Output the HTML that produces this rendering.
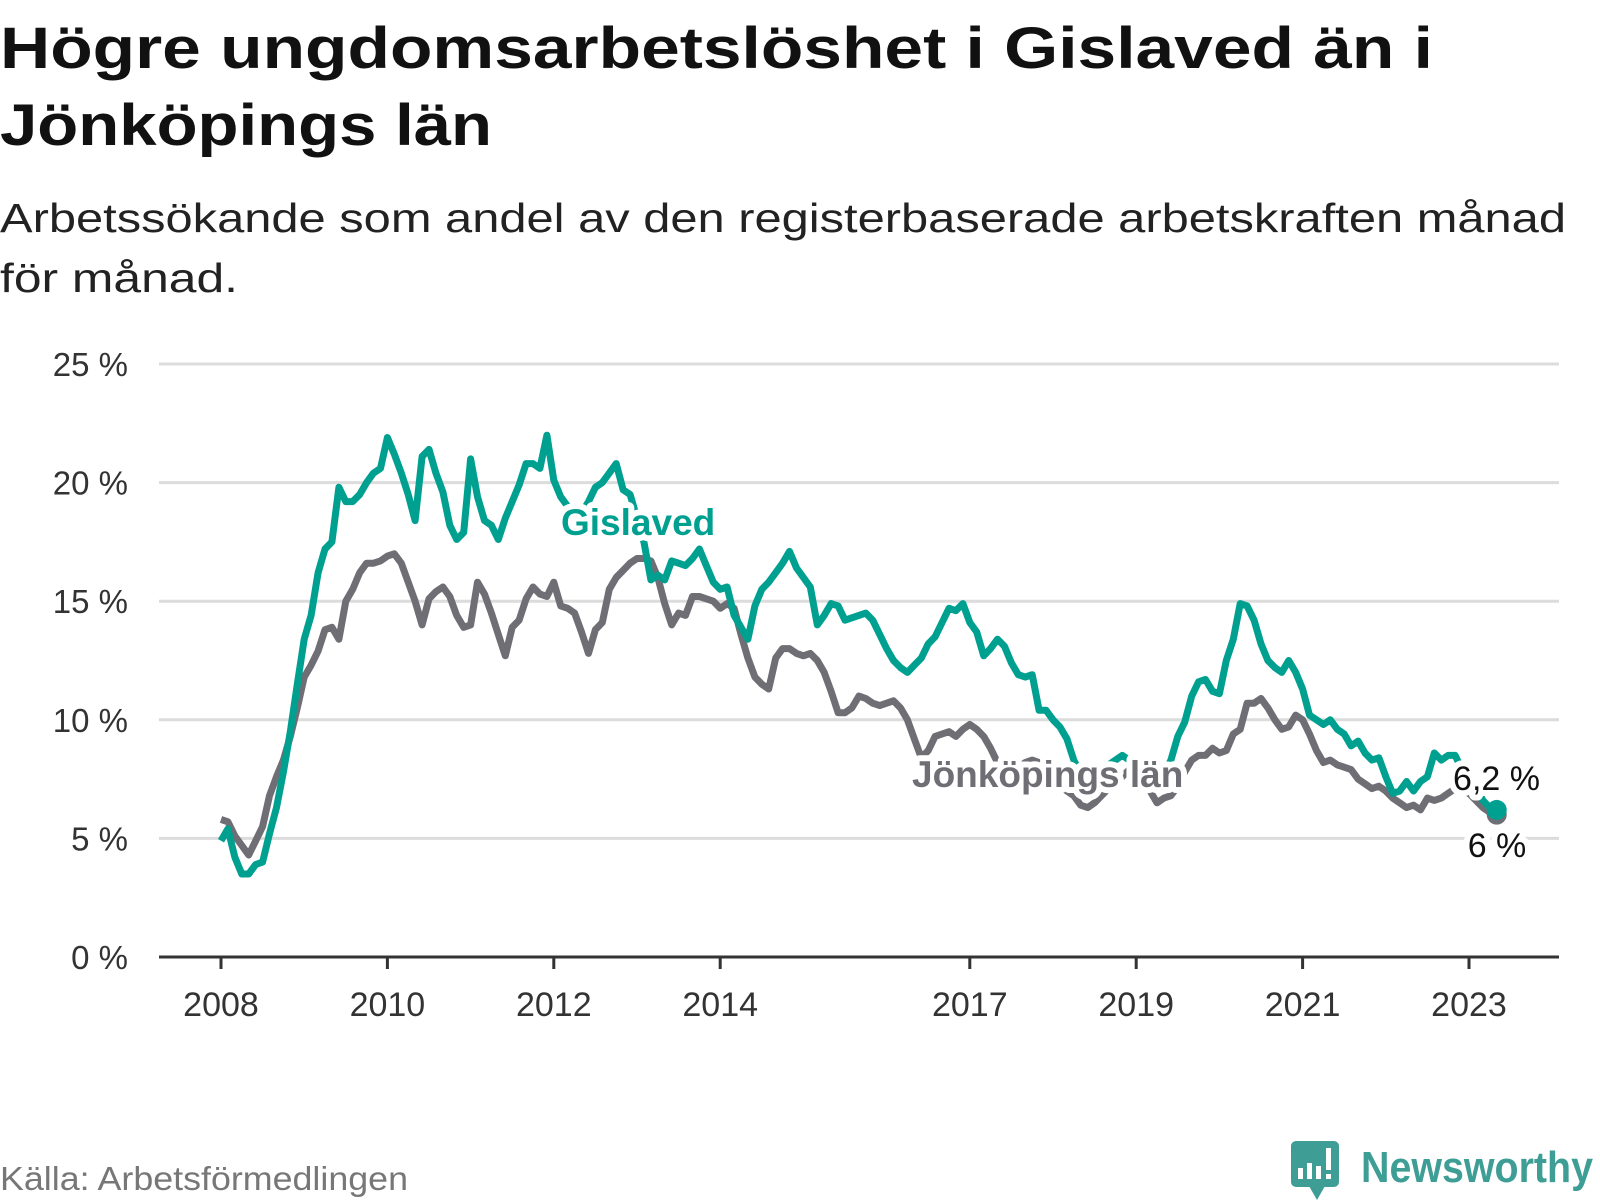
<!DOCTYPE html>
<html><head><meta charset="utf-8"><style>
html,body{margin:0;padding:0;background:#fff;}
svg{display:block;font-family:"Liberation Sans","DejaVu Sans",sans-serif;}
</style></head><body>
<svg id="chart" width="1600" height="1200" viewBox="0 0 1600 1200">
<text x="0" y="68" font-size="58" font-weight="bold" fill="#111" textLength="1433" lengthAdjust="spacingAndGlyphs">Högre ungdomsarbetslöshet i Gislaved än i</text>
<text x="0" y="145" font-size="58" font-weight="bold" fill="#111" textLength="492" lengthAdjust="spacingAndGlyphs">Jönköpings län</text>
<text x="0" y="232" font-size="41" fill="#222" textLength="1566" lengthAdjust="spacingAndGlyphs">Arbetssökande som andel av den registerbaserade arbetskraften månad</text>
<text x="0" y="292" font-size="41" fill="#222" textLength="238" lengthAdjust="spacingAndGlyphs">för månad.</text>
<g id="grid"></g>
<g id="yticks"></g>
<g id="xticks"></g>
<g id="series"></g>
<text x="0" y="1190" font-size="33" fill="#777" textLength="408" lengthAdjust="spacingAndGlyphs">Källa: Arbetsförmedlingen</text>
<g>
<rect x="1291" y="1141" width="48" height="46" rx="5" fill="#3e9e96"/>
<polygon points="1309,1186 1325,1186 1317,1200" fill="#3e9e96"/>
<rect x="1298" y="1168" width="5" height="11" fill="#fff"/><rect x="1307" y="1163" width="5" height="16" fill="#fff"/><rect x="1316" y="1166" width="5" height="13" fill="#fff"/><rect x="1326" y="1148" width="5" height="22" fill="#fff"/><rect x="1326" y="1174" width="5" height="5" fill="#fff"/>
<text x="1361" y="1182" font-size="44" font-weight="bold" fill="#3e9e96" textLength="232" lengthAdjust="spacingAndGlyphs">Newsworthy</text>
</g>
</svg>
<script>
const yTicks=[0,5,10,15,20,25];
const yTickLabels=["0 %","5 %","10 %","15 %","20 %","25 %"];
const xTickYears=[2008,2010,2012,2014,2017,2019,2021,2023];
const startYear=2008;
const gislaved=[4.9,5.4,4.2,3.5,3.5,3.9,4.0,5.2,6.3,7.8,9.5,11.5,
13.4,14.4,16.2,17.2,17.5,19.8,19.2,19.2,19.5,20.0,20.4,20.6,
21.9,21.2,20.4,19.5,18.4,21.1,21.4,20.4,19.6,18.2,17.6,17.9,
21.0,19.4,18.4,18.2,17.6,18.5,19.2,19.9,20.8,20.8,20.6,22.0,
20.1,19.4,19.0,18.6,18.7,19.2,19.8,20.0,20.4,20.8,19.7,19.5,
18.5,17.5,15.9,16.1,15.9,16.7,16.6,16.5,16.8,17.2,16.5,15.8,
15.5,15.6,14.4,13.9,13.4,14.8,15.5,15.8,16.2,16.6,17.1,16.4,
16.0,15.6,14.0,14.4,14.9,14.8,14.2,14.3,14.4,14.5,14.2,13.6,
13.0,12.5,12.2,12.0,12.3,12.6,13.2,13.5,14.1,14.7,14.6,14.9,
14.1,13.7,12.7,13.0,13.4,13.1,12.4,11.9,11.8,11.9,10.4,10.4,
10.0,9.7,9.2,8.3,7.7,7.5,7.8,7.9,8.1,8.3,8.5,8.3,
8.0,8.0,7.9,7.8,7.7,8.3,9.3,9.9,11.0,11.6,11.7,11.2,
11.1,12.5,13.4,14.9,14.8,14.2,13.2,12.5,12.2,12.0,12.5,12.0,
11.3,10.2,10.0,9.8,10.0,9.6,9.4,8.9,9.1,8.6,8.3,8.4,
7.6,6.9,7.0,7.4,7.0,7.4,7.6,8.6,8.3,8.5,8.5,7.9,
7.6,7.2,6.6,6.3,6.2];
const jonkoping=[5.8,5.7,5.1,4.7,4.3,4.9,5.5,6.8,7.6,8.3,9.3,10.5,
11.8,12.3,12.9,13.8,13.9,13.4,15.0,15.5,16.2,16.6,16.6,16.7,
16.9,17.0,16.6,15.8,15.0,14.0,15.1,15.4,15.6,15.2,14.4,13.9,
14.0,15.8,15.3,14.5,13.6,12.7,13.9,14.2,15.1,15.6,15.3,15.2,
15.8,14.8,14.7,14.5,13.7,12.8,13.8,14.1,15.5,16.0,16.3,16.6,
16.8,16.8,16.7,16.0,14.9,14.0,14.5,14.4,15.2,15.2,15.1,15.0,
14.7,14.9,14.7,13.6,12.6,11.8,11.5,11.3,12.6,13.0,13.0,12.8,
12.7,12.8,12.5,12.0,11.2,10.3,10.3,10.5,11.0,10.9,10.7,10.6,
10.7,10.8,10.5,10.0,9.2,8.4,8.7,9.3,9.4,9.5,9.3,9.6,
9.8,9.6,9.3,8.8,8.2,7.8,7.6,8.0,8.2,8.3,8.2,7.9,
7.6,7.2,7.0,6.8,6.4,6.3,6.5,6.8,7.1,7.4,7.6,7.9,
8.0,7.6,7.0,6.5,6.7,6.8,7.2,7.8,8.3,8.5,8.5,8.8,
8.6,8.7,9.4,9.6,10.7,10.7,10.9,10.5,10.0,9.6,9.7,10.2,
10.0,9.4,8.7,8.2,8.3,8.1,8.0,7.9,7.5,7.3,7.1,7.2,
7.0,6.7,6.5,6.3,6.4,6.2,6.7,6.6,6.7,6.9,7.1,7.0,
6.9,6.6,6.3,6.1,6.0];
const NS="http://www.w3.org/2000/svg";
const y0=957, pxPerPct=23.72, x0=221, pxPerYear=83.2;
const yScale=v=>y0-v*pxPerPct;
const xScale=i=>x0+i*pxPerYear/12;
const xYear=yr=>x0+(yr-startYear)*pxPerYear;
function mk(tag,attrs,parent){const e=document.createElementNS(NS,tag);for(const k in attrs)e.setAttribute(k,attrs[k]);parent.appendChild(e);return e;}
const grid=document.getElementById('grid'),yt=document.getElementById('yticks'),xt=document.getElementById('xticks'),ser=document.getElementById('series');
yTicks.forEach((v,i)=>{
  if(v>0){const l=mk('line',{x1:159,x2:1559,y1:yScale(v),y2:yScale(v),stroke:'#dcdcdc','stroke-width':3},grid);
  
  }
  const t=mk('text',{x:128,y:yScale(v)+12,'font-size':33,fill:'#333','text-anchor':'end'},yt);
  t.textContent=yTickLabels[i];
  
  
});
const ax=mk('line',{x1:159,x2:1559,y1:y0,y2:y0,stroke:'#333','stroke-width':3},xt);


xTickYears.forEach(yr=>{
  const x=xYear(yr);
  const tk=mk('line',{x1:x,x2:x,y1:y0,y2:y0+12,stroke:'#333','stroke-width':3},xt);
  
  
  const t=mk('text',{x:x,y:1016,'font-size':34,fill:'#333','text-anchor':'middle'},xt);
  t.textContent=yr;
  
  
});
function line(data,color,name){
  const d=data.map((v,i)=>(i?'L':'M')+xScale(i).toFixed(1)+','+yScale(v).toFixed(1)).join('');
  const p=mk('path',{d:d,fill:'none',stroke:color,'stroke-width':7,'stroke-linejoin':'round'},ser);
  
  
  const n=data.length-1;
  const c=mk('circle',{cx:xScale(n),cy:yScale(data[n]),r:10,fill:color},ser);
  
  
}
line(jonkoping,'#6f6e74','jonkoping');
line(gislaved,'#00a091','gislaved');
function lab(txt,x,y,color,bold,name,anchor){
  const a={x:x,y:y,'font-size':bold?37:34,fill:color,'text-anchor':anchor||'start',stroke:'#fff','stroke-width':12,'paint-order':'stroke','stroke-linejoin':'round'};
  if(bold)a['font-weight']='bold';
  const t=mk('text',a,ser);t.textContent=txt;
  
  
}
lab('Gislaved',561,535,'#00a091',true,'gislaved-label');
lab('Jönköpings län',912,787,'#6f6e74',true,'jonkoping-label');
const gLast=gislaved[gislaved.length-1], jLast=jonkoping[jonkoping.length-1];
lab(gLast.toString().replace('.',',')+' %',1540,790,'#111',false,'gislaved-end-value','end');
lab(jLast.toFixed(1).replace(/[.,]0$/,'').replace('.',',')+' %',1497,857,'#111',false,'jonkoping-end-value','middle');
</script>
</body></html>
